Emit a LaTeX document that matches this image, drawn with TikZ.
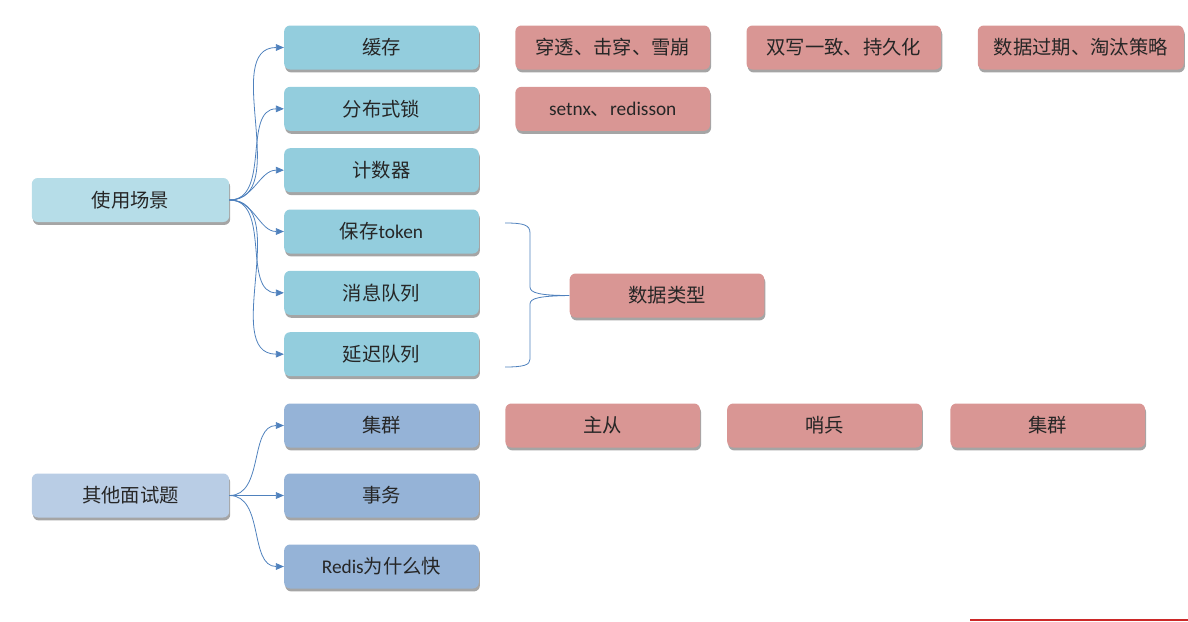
\documentclass[tikz,border=0pt]{standalone}
\usepackage{fontspec}
\setmainfont{Carlito}
\newfontfamily\cjk{Noto Sans CJK SC}
\usepackage{tikz}
\usetikzlibrary{arrows,arrows.meta,shapes,positioning,shadows}
\usepackage{xcolor}
\definecolor{rdtext}{RGB}{38,38,38}
\definecolor{rdscene}{RGB}{182,221,232}
\definecolor{rdteal}{RGB}{147,205,221}
\definecolor{rdred}{RGB}{217,150,148}
\definecolor{rdother}{RGB}{185,205,229}
\definecolor{rdblue}{RGB}{149,179,215}
\definecolor{rdline}{RGB}{79,129,189}
\definecolor{rdmark}{RGB}{204,40,40}
\newcommand{\zh}[1]{{\cjk #1}}
\tikzstyle{topic} = [rectangle, rounded corners=4.5pt, minimum width=146pt, minimum height=33pt, text centered, text=rdtext, font=\fontsize{14.5pt}{17pt}\selectfont, drop shadow={shadow xshift=0.8pt, shadow yshift=-2.2pt, opacity=0.5, fill=black!70}]
\tikzstyle{detail} = [topic, fill=rdred]
\tikzstyle{arrow} = [line width=0.6pt,-{Triangle[length=6pt,width=5pt]},color=rdline]

\begin{document}
\begin{tikzpicture}[x=0.75pt,y=-0.75pt,node distance=46pt]
\useasboundingbox (0,0) rectangle (1188,621);
% usage scenarios
\node (scene) [topic, fill=rdscene, minimum width=148pt] at (130.5,200) {\zh{使用场景}};
\node (cache) [topic, fill=rdteal] at (381.5,47.5) {\zh{缓存}};
\node (lock) [topic, fill=rdteal, below of=cache] {\zh{分布式锁}};
\node (counter) [topic, fill=rdteal, below of=lock] {\zh{计数器}};
\node (token) [topic, fill=rdteal, below of=counter] {\zh{保存}token};
\node (mq) [topic, fill=rdteal, below of=token] {\zh{消息队列}};
\node (delayq) [topic, fill=rdteal, below of=mq] {\zh{延迟队列}};
\node (penetrate) [detail, right=27pt of cache] {\zh{穿透、击穿、雪崩}};
\node (dualwrite) [detail, right=27pt of penetrate] {\zh{双写一致、持久化}};
\node (expire) [detail, minimum width=154.5pt, right=27pt of dualwrite] {\zh{数据过期、淘汰策略}};
\node (setnx) [detail, right=27pt of lock] {setnx\zh{、}redisson};
\node (dtype) [detail] at (667,295.5) {\zh{数据类型}};
\foreach \t in {cache,lock,counter,token,mq,delayq}
  \draw[arrow] (scene.east) to[out=0,in=180] (\t.west);
% brace
\draw[rdline, line width=0.6pt] (505,223) .. controls (524,223) and (530,225) .. (530,233) -- (530,287) .. controls (530,293) and (540,295.5) .. (dtype.west) .. controls (540,296) and (530,298) .. (530,304) -- (530,359) .. controls (530,365) and (524,367) .. (505,367);
% other questions
\node (other) [topic, fill=rdother, minimum width=148pt] at (130.5,495.5) {\zh{其他面试题}};
\node (cluster) [topic, fill=rdblue] at (381.5,425.5) {\zh{集群}};
\node (trans) [topic, fill=rdblue] at (381.5,495.5) {\zh{事务}};
\node (fast) [topic, fill=rdblue] at (381.5,566.5) {Redis\zh{为什么快}};
\node (master) [detail, right=19.5pt of cluster] {\zh{主从}};
\node (sentinel) [detail, right=20pt of master] {\zh{哨兵}};
\node (cluster2) [detail, right=21pt of sentinel] {\zh{集群}};
\foreach \t in {cluster,trans,fast}
  \draw[arrow] (other.east) to[out=0,in=180] (\t.west);
\coordinate (markl) at (970,619.8);
\coordinate (markr) at (1188,619.8);
\draw[rdmark, line width=1.2pt] (markl) -- (markr);
\end{tikzpicture}
\end{document}
